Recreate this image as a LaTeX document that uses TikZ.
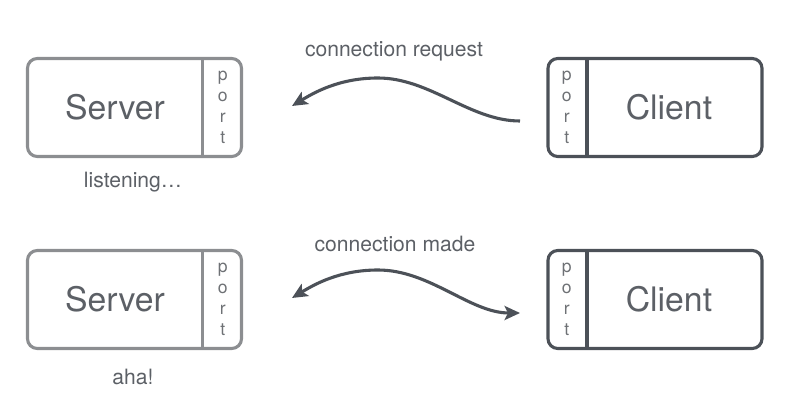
\documentclass[tikz,border=0pt]{standalone}
\usepackage{fontspec}
\setmainfont{TeX Gyre Heros}
\usetikzlibrary{positioning,arrows.meta}

\definecolor{srvgray}{HTML}{8C8E91}
\definecolor{cligray}{HTML}{4C5158}
\definecolor{txtgray}{HTML}{5C6066}
\definecolor{portgray}{HTML}{6E7175}

\tikzset{
  srvbox/.style={draw=srvgray, line width=2.2pt, rounded corners=7pt,
    minimum width=5.35cm, minimum height=2.45cm},
  clibox/.style={srvbox, draw=cligray},
  portcell/.style={minimum width=1cm, minimum height=2.45cm, inner sep=0pt,
    align=center, text=portgray, font=\fontsize{12.5}{15}\selectfont},
  boxtxt/.style={text=txtgray, font=\fontsize{24}{28}\selectfont},
  lbl/.style={text=txtgray, font=\fontsize{15}{18}\selectfont},
  wire/.style={draw=cligray, line width=2.2pt},
  tip/.style={-{Stealth[length=11pt,width=10pt,inset=2.5pt]}},
  bothtips/.style={{Stealth[length=11pt,width=10pt,inset=2.5pt]}-{Stealth[length=11pt,width=10pt,inset=2.5pt]}},
}

\begin{document}
\begin{tikzpicture}[x=0.025cm, y=-0.025cm]
  \useasboundingbox (0,0) rectangle (801,419);

  % top row: server listening, client asking
  \node[srvbox] (srvA) at (134.5,107.5) {};
  \node[portcell, anchor=east] (srvAport) at (srvA.east) {p\\o\\r\\t};
  \draw[srvgray, line width=2.2pt] (srvAport.north west) -- (srvAport.south west);
  \node[boxtxt] (srvAtxt) at (115,107.5) {Server};

  \node[clibox] (cliA) at (655,107.5) {};
  \node[portcell, anchor=west] (cliAport) at (cliA.west) {p\\o\\r\\t};
  \draw[cligray, line width=2.2pt] (cliAport.north east) -- (cliAport.south east);
  \node[boxtxt] (cliAtxt) at (669,107.5) {Client};

  \node[lbl] (reqlbl) at (394,51) {connection request};
  \node[lbl] (lstn) at (133,182) {listening…};

  \coordinate (reqS) at (520,121);
  \coordinate (reqM) at (378,78);
  \coordinate (reqE) at (292,106);
  \draw[wire, tip] (reqS) .. controls +(-50,0) and +(52,0) .. (reqM)
    .. controls +(-38,0) and +(23,-14) .. (reqE);

  % bottom row: connection made
  \node[srvbox] (srvB) at (134.5,299.5) {};
  \node[portcell, anchor=east] (srvBport) at (srvB.east) {p\\o\\r\\t};
  \draw[srvgray, line width=2.2pt] (srvBport.north west) -- (srvBport.south west);
  \node[boxtxt] (srvBtxt) at (115,299.5) {Server};

  \node[clibox] (cliB) at (655,299.5) {};
  \node[portcell, anchor=west] (cliBport) at (cliB.west) {p\\o\\r\\t};
  \draw[cligray, line width=2.2pt] (cliBport.north east) -- (cliBport.south east);
  \node[boxtxt] (cliBtxt) at (669,299.5) {Client};

  \node[lbl] (madelbl) at (395,244) {connection made};
  \node[lbl] (aha) at (133,377) {aha!};

  \coordinate (madeS) at (520,313);
  \coordinate (madeM) at (378,270);
  \coordinate (madeE) at (292,298);
  \draw[wire, bothtips] (madeS) .. controls +(-50,0) and +(52,0) .. (madeM)
    .. controls +(-38,0) and +(23,-14) .. (madeE);
\end{tikzpicture}
\end{document}
